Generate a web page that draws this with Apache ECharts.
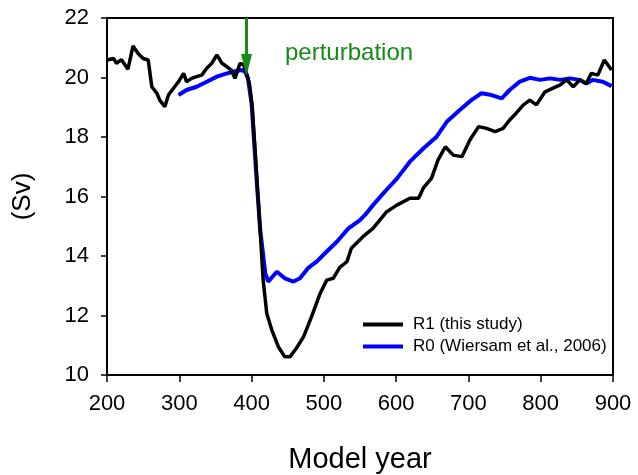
<!DOCTYPE html>
<html>
<head>
<meta charset="utf-8">
<script src="https://cdn.jsdelivr.net/npm/echarts@6/dist/echarts.min.js"></script>
<style>
  html, body { margin: 0; padding: 0; background: #fff; }
  #chart { width: 638px; height: 475px; }
</style>
</head>
<body>
<div id="chart"></div>
<script>
// R1 (this study)
var r1Years = [200, 209, 213, 220, 229, 236, 243, 250, 257, 262, 269, 273, 280, 285, 292, 299, 306, 310, 317, 324,
  331, 338, 345, 352, 359, 366, 372, 377, 384, 389, 393, 397, 401, 405, 410, 416, 421, 428, 437, 446,
  453, 462, 472, 483, 495, 504, 513, 522, 532, 538, 554, 568, 587, 601, 619, 631, 638, 649, 658, 668,
  679, 691, 702, 714, 725, 737, 748, 757, 766, 776, 785, 794, 806, 817, 827, 836, 845, 854, 863, 870,
  879, 888, 898];
var r1Values = [20.59, 20.64, 20.48, 20.6, 20.28, 21.06, 20.81, 20.64, 20.59, 19.69, 19.47, 19.24, 19.02, 19.41, 19.64, 19.86, 20.14, 19.86, 19.97, 20.03,
  20.08, 20.31, 20.48, 20.76, 20.48, 20.36, 20.25, 19.97, 20.48, 20.42, 20.14, 19.8, 19.0, 17.5, 15.6, 13.2, 12.07, 11.51, 10.95, 10.61,
  10.61, 10.9, 11.29, 11.96, 12.75, 13.19, 13.25, 13.62, 13.81, 14.26, 14.65, 14.93, 15.49, 15.71, 15.94, 15.94, 16.3, 16.62, 17.23, 17.67,
  17.39, 17.34, 17.9, 18.35, 18.29, 18.18, 18.29, 18.57, 18.8, 19.08, 19.24, 19.08, 19.52, 19.64, 19.75, 19.92, 19.69, 19.92, 19.8, 20.14,
  20.08, 20.59, 20.25];

// R0 (Wiersam et al., 2006)
var r0Years = [299, 310, 324, 338, 352, 366, 379, 386, 391, 395, 400, 405, 408, 412, 419, 423, 435, 446, 458, 467,
  478, 490, 504, 518, 534, 550, 557, 568, 585, 601, 619, 638, 656, 670, 688, 704, 718, 732, 746, 757,
  771, 785, 799, 813, 827, 840, 854, 863, 872, 886, 898];
var r0Values = [19.41, 19.58, 19.69, 19.86, 20.03, 20.14, 20.22, 20.25, 20.2, 19.97, 19.13, 17.3, 16.2, 14.87, 13.42, 13.14, 13.47, 13.25, 13.14, 13.25,
  13.59, 13.81, 14.15, 14.48, 14.93, 15.21, 15.38, 15.71, 16.18, 16.6, 17.17, 17.62, 18.01, 18.51, 18.91, 19.24, 19.47, 19.41, 19.3, 19.58,
  19.86, 19.99, 19.92, 19.97, 19.92, 19.97, 19.92, 19.8, 19.92, 19.86, 19.71];

// arrow marking the start of the perturbation
var perturbYear = 393;
var arrowTop = 22;
var arrowTip = 20.42;

function pairs(xs, ys) {
  return xs.map(function (x, i) { return [x, ys[i]]; });
}

var chart = echarts.init(document.getElementById('chart'));
var font = 'Liberation Sans, Arial, sans-serif';
var green = '#178a17';

var option = {
  animation: false,
  textStyle: { fontFamily: font },
  grid: {
    left: 107, right: 25, top: 18, bottom: 100,
    outerBoundsMode: 'none',
    show: true, borderColor: '#000', borderWidth: 2
  },
  legend: {
    orient: 'vertical',
    left: 358, top: 311,
    itemWidth: 40, itemHeight: 4, itemGap: 5,
    icon: 'rect',
    textStyle: { fontSize: 17, color: '#000', fontFamily: font, padding: [0, 0, 0, 5] },
    data: ['R1 (this study)', 'R0 (Wiersam et al., 2006)']
  },
  xAxis: {
    type: 'value', min: 200, max: 900, interval: 100,
    name: 'Model year', nameLocation: 'middle', nameGap: 70,
    nameTextStyle: { fontSize: 29, color: '#000', fontFamily: font },
    axisLine: { lineStyle: { color: '#000', width: 2 } },
    axisTick: { show: true, length: 7, lineStyle: { color: '#000', width: 1.5 } },
    axisLabel: { fontSize: 22, color: '#000', margin: 18, fontFamily: font },
    splitLine: { show: false }
  },
  yAxis: {
    type: 'value', min: 10, max: 22, interval: 2,
    name: '(Sv)', nameLocation: 'middle', nameGap: 71,
    nameTextStyle: { fontSize: 26, color: '#000', fontFamily: font },
    axisLine: { show: true, lineStyle: { color: '#000', width: 2 } },
    axisTick: { show: true, length: 6, lineStyle: { color: '#000', width: 1.5 } },
    axisLabel: { fontSize: 22, color: '#000', margin: 18, fontFamily: font },
    splitLine: { show: false }
  },
  graphic: [{
    type: 'text', left: 285, top: 41,
    style: { text: 'perturbation', fill: green, fontSize: 24, fontFamily: font }
  }],
  series: [
    {
      name: 'R0 (Wiersam et al., 2006)', type: 'line', showSymbol: false, symbol: 'none',
      color: '#0000ff', lineStyle: { color: '#0000ff', width: 4 },
      data: pairs(r0Years, r0Values)
    },
    {
      name: 'R1 (this study)', type: 'line', showSymbol: false, symbol: 'none',
      color: '#000', lineStyle: { color: '#000', width: 3.5 },
      data: pairs(r1Years, r1Values),
      markLine: {
        silent: true, symbol: ['none', 'triangle'], symbolSize: [11, 22],
        label: { show: false },
        lineStyle: { color: green, width: 3, type: 'solid' },
        data: [[{ coord: [perturbYear, arrowTop] }, { coord: [perturbYear, arrowTip] }]]
      }
    }
  ]
};
chart.setOption(option);
</script>
</body>
</html>
